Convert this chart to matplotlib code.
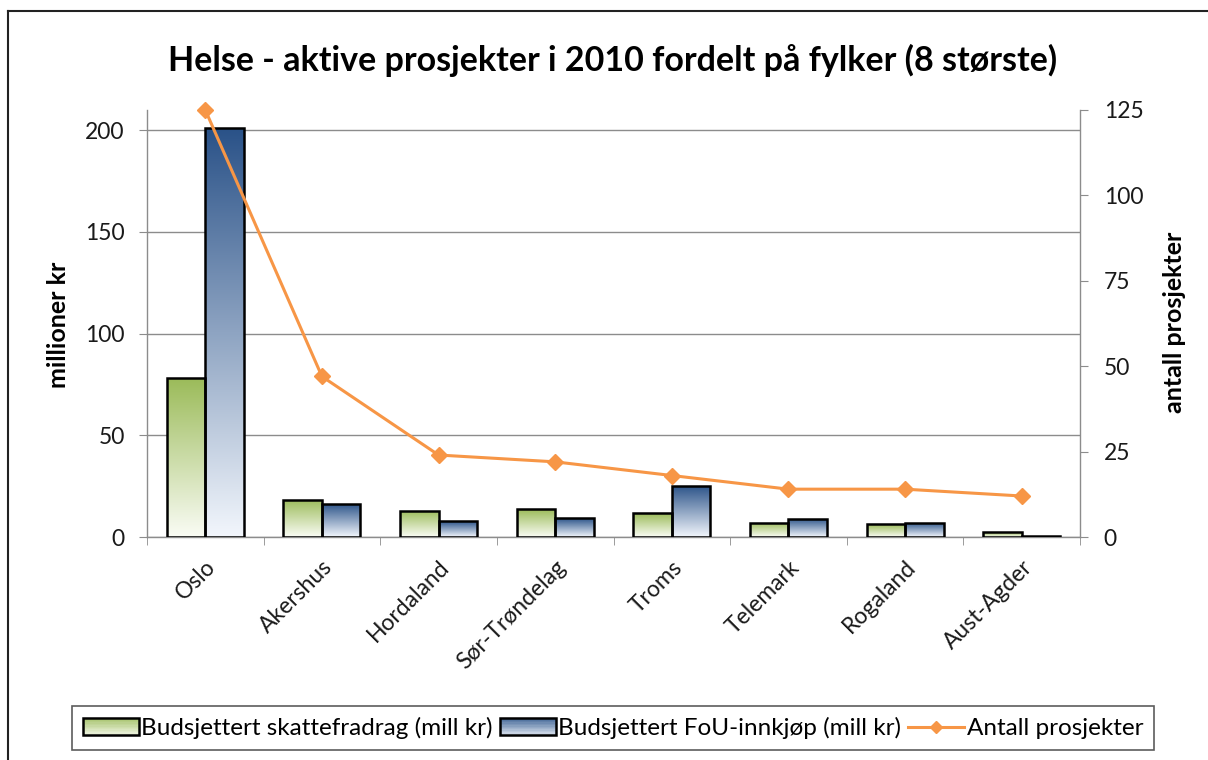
import numpy as np
import matplotlib
matplotlib.use("Agg")
import matplotlib.pyplot as plt
from matplotlib.colors import LinearSegmentedColormap
from matplotlib.patches import Rectangle
from matplotlib.lines import Line2D
from matplotlib.legend_handler import HandlerBase

plt.rcParams['font.family'] = ['Lato', 'DejaVu Sans']

# ---- data ----
categories = ["Oslo", "Akershus", "Hordaland", "Sør-Trøndelag", "Troms",
              "Telemark", "Rogaland", "Aust-Agder"]
skattefradrag = [78, 18.2, 13, 13.6, 11.7, 7, 6.2, 2.3]
fou_innkjop = [201, 16.3, 7.7, 9.2, 25.1, 8.9, 7, 0.5]
antall_prosjekter = [125, 47, 24, 22, 18, 14, 14, 12]
left_ticks = [0, 50, 100, 150, 200]
right_ticks = [0, 25, 50, 75, 100, 125]

title = "Helse - aktive prosjekter i 2010 fordelt på fylker (8 største)"
label_green = "Budsjettert skattefradrag (mill kr)"
label_blue = "Budsjettert FoU-innkjøp (mill kr)"
label_line = "Antall prosjekter"

green_cmap = LinearSegmentedColormap.from_list("g", ["#9BBB59", "#FAFCF5"])
blue_cmap = LinearSegmentedColormap.from_list("b", ["#2A5288", "#F2F6FC"])
orange = "#F79646"
grid_col = "#8C8C8C"
text_col = "#1A1A1A"

W, H = 1208, 760
fig = plt.figure(figsize=(W / 100, H / 100), dpi=100)
ax = fig.add_axes([147 / W, 1 - 537 / H, (1080 - 147) / W, (537 - 110) / H])
ax.set_facecolor("white")

x = np.arange(len(categories))
bw = 0.33
grad = np.linspace(0, 1, 256).reshape(-1, 1)


def grad_bars(xpos, vals, cmap):
    bars = ax.bar(xpos, vals, width=bw, facecolor="none", edgecolor="black",
                  linewidth=1.8, zorder=3)
    for b in bars:
        x0 = b.get_x()
        h = b.get_height()
        im = ax.imshow(grad, extent=[x0, x0 + b.get_width(), 0, h], cmap=cmap,
                       aspect="auto", origin="upper", zorder=2.5,
                       interpolation="bilinear")
        im.set_clip_path(b)
    return bars


grad_bars(x - bw / 2, skattefradrag, green_cmap)
grad_bars(x + bw / 2, fou_innkjop, blue_cmap)

ax.set_xlim(-0.5, len(categories) - 0.5)
ax.set_ylim(0, 210)
ax.set_yticks(left_ticks)
ax.yaxis.grid(True, color=grid_col, linewidth=1.0, zorder=0)
ax.set_axisbelow(True)
ax.set_xticks(x)
ax.set_xticklabels(categories, rotation=45, ha="right", va="top",
                   rotation_mode="anchor", fontsize=16.5, color=text_col)
ax.set_xticks(np.arange(-0.5, len(categories), 1.0), minor=True)
ax.tick_params(axis="x", which="major", length=0, pad=14)
ax.tick_params(axis="x", which="minor", length=6, color=grid_col, direction="out")
ax.tick_params(axis="y", length=6, color=grid_col, labelsize=16.5,
               labelcolor=text_col, pad=10)
for s in ["top", "right"]:
    ax.spines[s].set_visible(False)
for s in ["left", "bottom"]:
    ax.spines[s].set_color(grid_col)
    ax.spines[s].set_linewidth(1.0)

ax2 = ax.twinx()
ax2.plot(x, antall_prosjekter, color=orange, linewidth=2.2, marker="D",
         markersize=8.5, zorder=5, clip_on=False)
ax2.set_ylim(0, 125)
ax2.set_yticks(right_ticks)
ax2.tick_params(axis="y", length=6, color=grid_col, labelsize=16.5,
                labelcolor=text_col, pad=11)
for s in ["top", "left", "bottom"]:
    ax2.spines[s].set_visible(False)
ax2.spines["right"].set_color(grid_col)
ax2.spines["right"].set_linewidth(1.0)

fig.text(58 / W, 1 - 325 / H, "millioner kr", rotation=90, ha="center",
         va="center", fontsize=18, fontweight="bold", color="black")
fig.text(1174 / W, 1 - 322 / H, "antall prosjekter", rotation=90, ha="center",
         va="center", fontsize=18, fontweight="bold", color="black")

fig.text(613 / W, 1 - 60 / H, title, ha="center", va="center",
         fontsize=24.5, fontweight="bold", color="black")

# outer frame (cropped)
fig.add_artist(Line2D([8 / W, 8 / W], [0, 1 - 11 / H], transform=fig.transFigure,
                      color="#222222", linewidth=1.5))
fig.add_artist(Line2D([8 / W, 1], [1 - 11 / H, 1 - 11 / H], transform=fig.transFigure,
                      color="#222222", linewidth=1.5))


class GradHandler(HandlerBase):
    def __init__(self, cmap):
        super().__init__()
        self.cmap = cmap

    def create_artists(self, legend, orig_handle, xdescent, ydescent, width,
                       height, fontsize, trans):
        arts = []
        n = 12
        for i in range(n):
            c = self.cmap(0.15 + 0.7 * i / (n - 1))
            r = Rectangle((-xdescent, -ydescent + height * (1 - (i + 1) / n)),
                          width, height / n, facecolor=c, edgecolor="none",
                          transform=trans)
            arts.append(r)
        arts.append(Rectangle((-xdescent, -ydescent), width, height,
                              facecolor="none", edgecolor="black",
                              linewidth=1.8, transform=trans))
        return arts


h_green = Rectangle((0, 0), 1, 1)
h_blue = Rectangle((0, 0), 1, 1)
h_line = Line2D([], [], color=orange, linewidth=2.2, marker="D", markersize=6)

leg = fig.legend([h_green, h_blue, h_line], [label_green, label_blue, label_line],
                 handler_map={h_green: GradHandler(green_cmap),
                              h_blue: GradHandler(blue_cmap)},
                 loc="center", bbox_to_anchor=(613 / W, 1 - 728 / H), ncol=3,
                 fontsize=17.5, frameon=True, fancybox=False, handlelength=2.3,
                 handleheight=0.7, handletextpad=0.1, columnspacing=0.3,
                 borderpad=0.45, borderaxespad=0)
leg.get_frame().set_edgecolor("#333333")
leg.get_frame().set_linewidth(1.2)

fig.savefig("out.png", dpi=100, facecolor="white")
